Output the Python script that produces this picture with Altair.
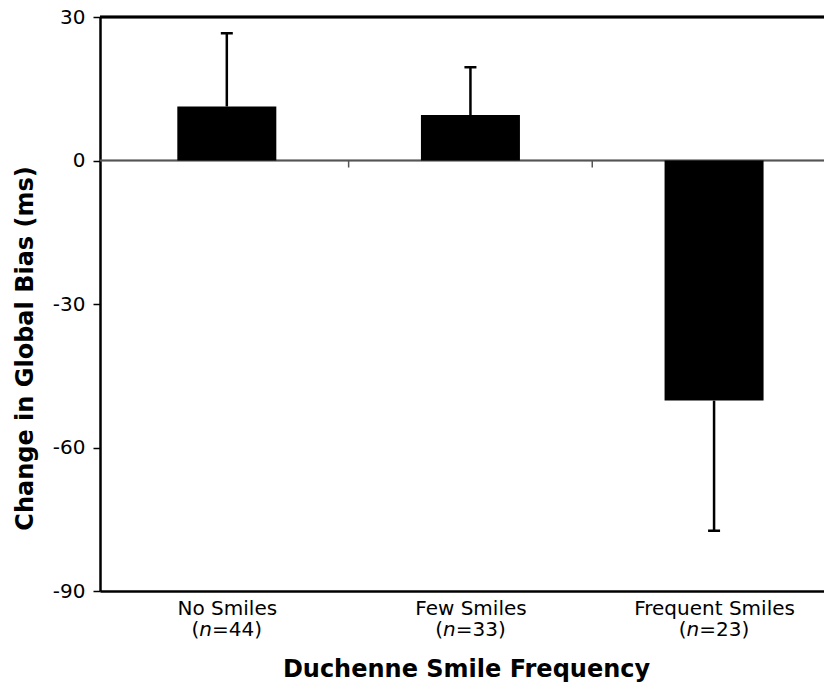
import altair as alt
import pandas as pd
import json

categories = ["No Smiles", "Few Smiles", "Frequent Smiles"]
n_values = [44, 33, 23]
means = [11.3, 9.5, -50.2]
err_ends = [26.6, 19.5, -77.4]
y_ticks = [-90, -60, -30, 0, 30]

df = pd.DataFrame({
    "cat": categories,
    "pos": [i + 0.5 for i in range(len(categories))],
    "mean": means,
    "err": err_ends,
    "rest": ["=%d)" % n for n in n_values],
})
bounds = pd.DataFrame({"b": [1, 2]})

FONT = "DejaVu Sans"
W, H = 732, 574
BAND = 247.0
LBL = 20

xscale = alt.Scale(domain=[0, W / BAND], nice=False, zero=False)
yscale = alt.Scale(domain=[-90, 30], nice=False, zero=False)

label_expr = "%s[floor(datum.value)]" % json.dumps(categories).replace('"', "'")

xaxis = alt.Axis(
    values=[0.5, 1.5, 2.5], labelExpr=label_expr, ticks=False, grid=False,
    domainColor="black", domainWidth=2.5, labelFontSize=LBL, labelColor="black",
    labelPadding=7, labelFlush=False, labelFont=FONT,
    title="Duchenne Smile Frequency", titleFontSize=24, titleFontWeight="bold",
    titleColor="black", titleFont=FONT, titleY=85, titleBaseline="alphabetic",
)
yaxis = alt.Axis(
    values=y_ticks, grid=False, domainColor="black", domainWidth=2.5,
    labelExpr="'' + datum.value",
    tickColor="black", tickSize=7, tickWidth=1.5, labelFontSize=LBL,
    labelColor="black", labelPadding=8, labelFont=FONT,
    title="Change in Global Bias (ms)", titleFontSize=24, titleFontWeight="bold",
    titleColor="black", titleFont=FONT, titleX=-75, titleY=331,
    titleBaseline="middle", titleAlign="center", titleAngle=-90,
)


def X(field=None, datum=None):
    if datum is not None:
        return alt.X(datum=datum, scale=xscale, axis=xaxis)
    return alt.X(field, scale=xscale, axis=xaxis)


def Y(field=None, datum=None):
    if datum is not None:
        return alt.Y(datum=datum, scale=yscale, axis=yaxis)
    return alt.Y(field, scale=yscale, axis=yaxis)


base = alt.Chart(df)

bars = base.mark_bar(size=99, color="black").encode(
    x=X("pos:Q"),
    y=Y("mean:Q"),
    y2=alt.Y2(datum=0),
)

zero = base.mark_rule(color="#555555", strokeWidth=1.5).encode(y=Y(datum=0))
top = base.mark_rule(color="black", strokeWidth=2.5).encode(y=Y(datum=30))
seps = alt.Chart(bounds).mark_tick(
    orient="vertical", size=7, thickness=1.5, color="#555555", yOffset=3.5, opacity=1
).encode(x=X("b:Q"), y=Y(datum=0))

err_line = base.mark_rule(color="black", strokeWidth=2.5).encode(
    x=X("pos:Q"), y=Y("mean:Q"), y2="err:Q",
)
err_cap = base.mark_tick(
    orient="horizontal", size=12, thickness=2.5, color="black", opacity=1
).encode(x=X("pos:Q"), y=Y("err:Q"))

# widths of glyphs at LBL px (DejaVu Sans): "(" 0.39em, italic n 0.634em, "=44)" ~2.5em
w_par = 0.39 * LBL
w_n = 0.634 * LBL
w_rest = (0.838 + 0.636 * 2 + 0.39) * LBL
start = -(w_par + w_n + w_rest) / 2


def lab(text_enc, dx, italic=False):
    kw = dict(align="left", baseline="alphabetic", dx=dx, dy=45,
              fontSize=LBL, font=FONT, color="black")
    if italic:
        kw["fontStyle"] = "italic"
    return base.mark_text(**kw).encode(
        x=X("pos:Q"), y=Y(datum=-90), text=text_enc,
    )


l1 = lab(alt.value("("), start)
l2 = lab(alt.value("n"), start + w_par, italic=True)
l3 = lab("rest:N", start + w_par + w_n)

chart = alt.layer(zero, seps, top, bars, err_line, err_cap, l1, l2, l3).properties(
    width=W, height=H,
    autosize=alt.AutoSizeParams(type="none"),
    padding={"left": 92, "top": 9, "right": -8, "bottom": 92},
).configure_view(strokeOpacity=0, strokeWidth=0).configure(font=FONT, background="white")

chart.save("out.html", embed_options={"renderer": "svg", "actions": False})
